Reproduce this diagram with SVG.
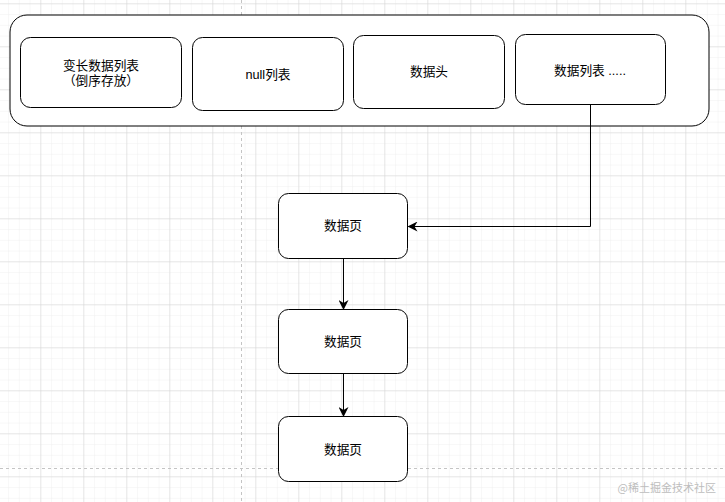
<svg xmlns="http://www.w3.org/2000/svg" width="725" height="502" viewBox="0 0 725 502">
<defs>
<pattern id="minor" x="-1.7" y="4.3" width="10.75" height="10.75" patternUnits="userSpaceOnUse">
<path d="M10.75 0 V10.75 M0 10.75 H10.75" fill="none" stroke="#f0f0f0" stroke-width="1"/>
</pattern>
<pattern id="major" x="-1.7" y="4.3" width="43" height="43" patternUnits="userSpaceOnUse">
<path d="M43 0 V43 M0 43 H43" fill="none" stroke="#d4d4d4" stroke-width="1"/>
</pattern>
<marker id="arr" viewBox="0 0 10 10" refX="9" refY="5" markerWidth="10" markerHeight="10" orient="auto" markerUnits="userSpaceOnUse">
<path d="M0,0 L10,5 L0,10 L3,5 z" fill="#000"/>
</marker>
<style>
.box{fill:#fff;stroke:#000;stroke-width:1}
.t{font-family:"Liberation Sans","Noto Sans CJK SC",sans-serif;font-size:12.7px;fill:#000;text-anchor:middle;dominant-baseline:central}
.c{fill:none;stroke:#000;stroke-width:1}
</style>
</defs>
<rect width="725" height="502" fill="#fff"/>
<rect width="725" height="502" fill="url(#minor)"/>
<rect width="725" height="502" fill="url(#major)"/>
<line x1="241.5" y1="0" x2="241.5" y2="502" stroke="#c4c4c4" stroke-dasharray="3,3"/>
<line x1="0" y1="468.5" x2="725" y2="468.5" stroke="#c4c4c4" stroke-dasharray="3,3"/>

<g id="container">
<rect class="box" x="10" y="15" width="699" height="111" rx="17"/>
</g>
<g id="varlen">
<rect class="box" x="20.5" y="37.5" width="161" height="70" rx="10"/>
<text class="t" x="101" y="65.5">变长数据列表</text>
<text class="t" x="101" y="80.5">（倒序存放）</text>
</g>
<g id="nulllist">
<rect class="box" x="192.5" y="37.5" width="151" height="73" rx="10"/>
<text class="t" x="268" y="74.5">null列表</text>
</g>
<g id="header">
<rect class="box" x="353.5" y="35.5" width="151" height="73" rx="10"/>
<text class="t" x="429" y="72">数据头</text>
</g>
<g id="datalist">
<rect class="box" x="515.5" y="34.5" width="150" height="70" rx="10"/>
<text class="t" x="590" y="70.5">数据列表 .....</text>
</g>
<g id="page1">
<rect class="box" x="278.5" y="193.5" width="129" height="65" rx="10"/>
<text class="t" x="343" y="226">数据页</text>
</g>
<g id="page2">
<rect class="box" x="278.5" y="309.5" width="129" height="64" rx="10"/>
<text class="t" x="343" y="342">数据页</text>
</g>
<g id="page3">
<rect class="box" x="278.5" y="416.5" width="129" height="65" rx="10"/>
<text class="t" x="343" y="449.5">数据页</text>
</g>
<g id="connectors">
<path class="c" d="M590.5 104.5 V226.5 H408.5" marker-end="url(#arr)"/>
<path class="c" d="M343.5 258.5 V309" marker-end="url(#arr)"/>
<path class="c" d="M343.5 373.5 V416" marker-end="url(#arr)"/>
</g>
<text x="716" y="492" font-family="'Noto Sans CJK SC',sans-serif" font-size="11" fill="#bdbdbd" text-anchor="end">@稀土掘金技术社区</text>
</svg>
